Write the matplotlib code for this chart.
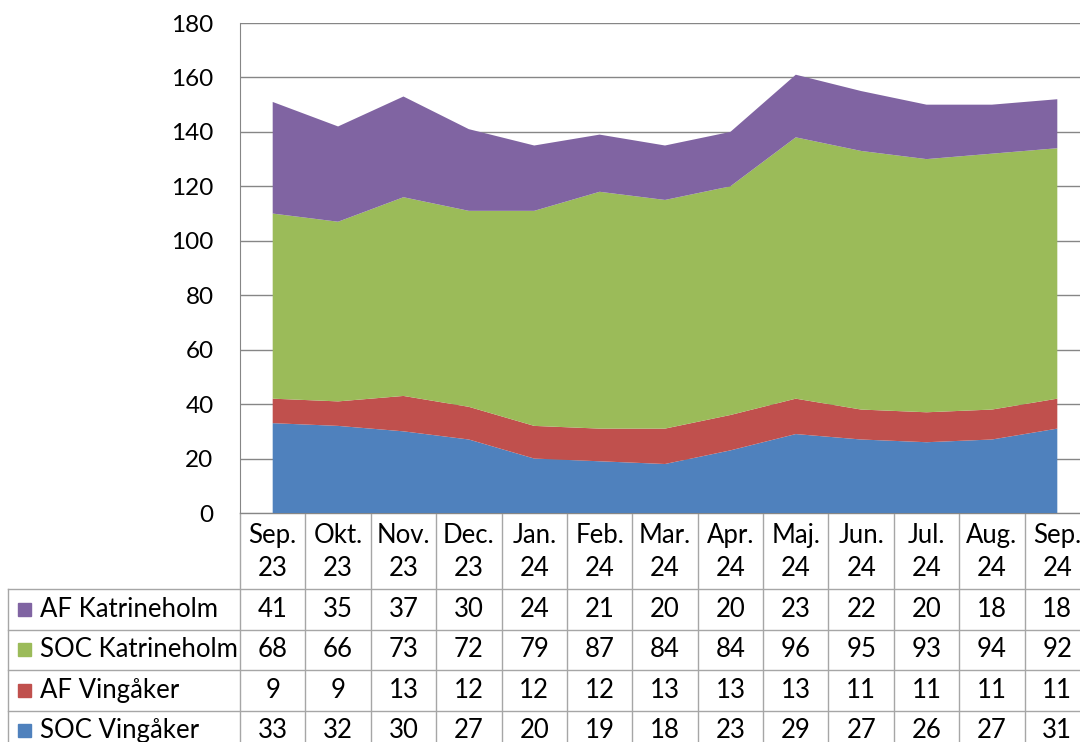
import matplotlib
matplotlib.use("Agg")
import matplotlib.pyplot as plt
import numpy as np

plt.rcParams['font.family'] = ['Lato', 'DejaVu Sans']

months = ["Sep.\n23", "Okt.\n23", "Nov.\n23", "Dec.\n23", "Jan.\n24", "Feb.\n24",
          "Mar.\n24", "Apr.\n24", "Maj.\n24", "Jun.\n24", "Jul.\n24", "Aug.\n24", "Sep.\n24"]

soc_vingaker = [33, 32, 30, 27, 20, 19, 18, 23, 29, 27, 26, 27, 31]
af_vingaker = [9, 9, 13, 12, 12, 12, 13, 13, 13, 11, 11, 11, 11]
soc_katrineholm = [68, 66, 73, 72, 79, 87, 84, 84, 96, 95, 93, 94, 92]
af_katrineholm = [41, 35, 37, 30, 24, 21, 20, 20, 23, 22, 20, 18, 18]

names = ["SOC Vingåker", "AF Vingåker", "SOC Katrineholm", "AF Katrineholm"]
colors = ["#4F81BD", "#C0504D", "#9BBB59", "#8064A2"]

W, H = 1080, 742
fig = plt.figure(figsize=(W / 100, H / 100), dpi=100)

# plot area in pixels
x0, top, bot = 240, 23, 513
ncol = len(months)
col_w = 850 / ncol

ax = fig.add_axes([x0 / W, (H - bot) / H, ncol * col_w / W, (bot - top) / H])
ax.set_zorder(2)
x = np.arange(ncol)
ax.stackplot(x, soc_vingaker, af_vingaker, soc_katrineholm, af_katrineholm,
             colors=colors, zorder=3)
ax.set_xlim(-0.5, ncol - 0.5)
ax.set_ylim(0, 180)
ax.set_yticks(range(0, 181, 20))
ax.set_xticks([])
ax.yaxis.grid(True, color="#868686", linewidth=1)
ax.set_axisbelow(True)
ax.tick_params(axis="y", length=0, pad=19, labelsize=17.5)
for s in ["top", "right"]:
    ax.spines[s].set_visible(False)
ax.spines["left"].set_color("#868686")
ax.spines["bottom"].set_color("#868686")

# data table drawn in pixel coordinates
tab = fig.add_axes([0, 0, 1, 1])
tab.set_zorder(1)
tab.set_xlim(0, W)
tab.set_ylim(H, 0)
tab.axis("off")
lc = "#A6A6A6"
hdr_bot = 589
row_h = 40.5
legend_left = 8
fs = 18.5
rows = list(zip(names, colors, [soc_vingaker, af_vingaker, soc_katrineholm, af_katrineholm]))[::-1]
nrows = len(rows)
tbl_bot = hdr_bot + nrows * row_h

# vertical lines
for i in range(ncol + 1):
    xx = x0 + i * col_w
    tab.plot([xx, xx], [bot, tbl_bot], color=lc, lw=1)
tab.plot([legend_left, legend_left], [hdr_bot, tbl_bot], color=lc, lw=1)
# horizontal lines
tab.plot([x0, x0 + ncol * col_w], [bot, bot], color=lc, lw=1)
for r in range(nrows + 1):
    yy = hdr_bot + r * row_h
    tab.plot([legend_left, x0 + ncol * col_w], [yy, yy], color=lc, lw=1)

# header labels
for i, m in enumerate(months):
    cx = x0 + (i + 0.5) * col_w
    tab.text(cx, (bot + hdr_bot) / 2 + 1, m, ha="center", va="center",
             fontsize=fs, linespacing=1.4)

# rows
for r, (name, c, vals) in enumerate(rows):
    cy = hdr_bot + (r + 0.5) * row_h
    tab.add_patch(plt.Rectangle((18, cy - 6.5), 13, 13, color=c))
    tab.text(40, cy, name, ha="left", va="center", fontsize=fs)
    for i, v in enumerate(vals):
        cx = x0 + (i + 0.5) * col_w
        tab.text(cx, cy, str(v), ha="center", va="center", fontsize=fs)

fig.savefig("out.png", dpi=100)
